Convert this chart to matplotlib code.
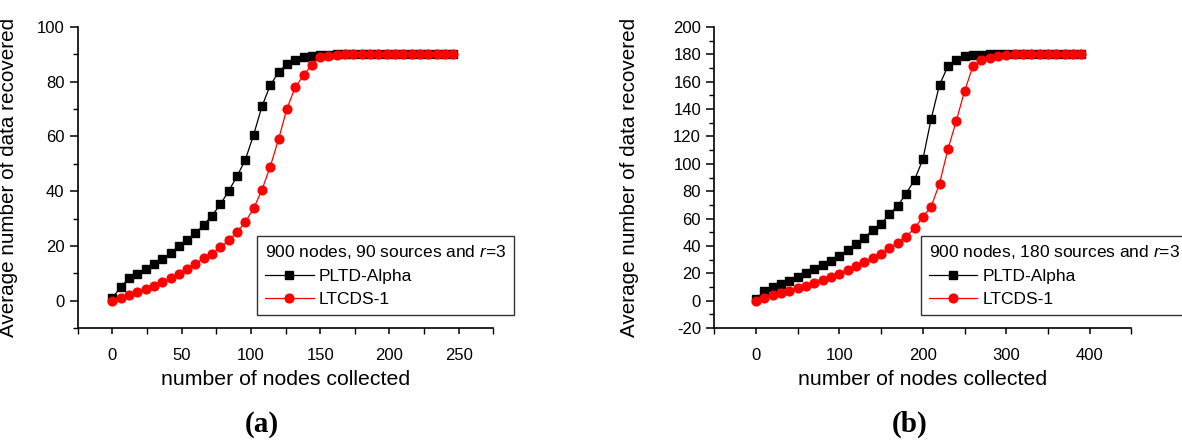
import numpy as np
import matplotlib
matplotlib.use('Agg')
import matplotlib.pyplot as plt
from matplotlib.ticker import MultipleLocator

plt.rcParams['font.family'] = ['Liberation Sans', 'DejaVu Sans']
plt.rcParams['mathtext.fontset'] = 'custom'
plt.rcParams['mathtext.rm'] = 'Liberation Sans'
plt.rcParams['mathtext.it'] = 'Liberation Sans:italic'
plt.rcParams['axes.unicode_minus'] = False

# (a) 900 nodes, 90 sources
x_a = [0, 6, 12, 18, 24, 30, 36, 42, 48, 54, 60, 66, 72, 78, 84, 90, 96, 102, 108, 114, 120,
       126, 132, 138, 144, 150, 156, 162, 168, 174, 180, 186, 192, 198, 204, 210, 216, 222,
       228, 234, 240, 246]
pltd_a = [1, 4.9, 8.2, 9.8, 11.5, 13.3, 15.2, 17.3, 19.8, 22.2, 24.6, 27.7, 31.1, 35.2, 40.1,
          45.4, 51.5, 60.6, 71.0, 78.7, 83.5, 86.6, 88.0, 89.0, 89.5, 89.8, 89.9, 90, 90, 90,
          90, 90, 90, 90, 90, 90, 90, 90, 90, 90, 90, 90]
ltcds_a = [0, 1.1, 2.1, 3.2, 4.3, 5.5, 6.8, 8.3, 9.8, 11.6, 13.5, 15.5, 17.2, 19.5, 22.0, 25.0,
           28.7, 33.7, 40.5, 49.0, 59.0, 70.1, 78.0, 82.3, 86.2, 88.9, 89.5, 89.8, 90, 90, 90,
           90, 90, 90, 90, 90, 90, 90, 90, 90, 90, 90]

# (b) 900 nodes, 180 sources
x_b = [0, 10, 20, 30, 40, 50, 60, 70, 80, 90, 100, 110, 120, 130, 140, 150, 160, 170, 180, 190,
       200, 210, 220, 230, 240, 250, 260, 270, 280, 290, 300, 310, 320, 330, 340, 350, 360,
       370, 380, 390]
pltd_b = [1, 7.3, 9.8, 12, 14.4, 17.3, 20, 23.2, 25.9, 29.3, 32.9, 37.1, 41.2, 46.1, 51.5, 56.3,
          63.2, 69.5, 78.3, 88.3, 103.2, 132.9, 157.8, 171.2, 175.9, 178.5, 179.3, 179.8, 180,
          180, 180, 180, 180, 180, 180, 180, 180, 180, 180, 180]
ltcds_b = [0, 2.2, 4.1, 5.6, 7.3, 9.0, 11.0, 12.9, 15.1, 17.3, 19.8, 22.7, 25.4, 28.0, 31.5,
           34.4, 38.3, 42.2, 46.8, 52.9, 61.2, 68.8, 85.6, 110.5, 131.2, 153.2, 171.2, 176.1,
           177.1, 178.8, 179.5, 180, 180, 180, 180, 180, 180, 180, 180, 180]

fig = plt.figure(figsize=(11.82, 4.41), dpi=100)
W, H = 1182, 441


def add_ax(l, r, t, b):
    return fig.add_axes([l / W, 1 - b / H, (r - l) / W, (b - t) / H])


ax1 = add_ax(77.7, 493.3, 27, 328)
ax2 = add_ax(714.3, 1131.4, 27, 328)

panels = [
    (ax1, x_a, pltd_a, ltcds_a, (-25, 275), (-10, 100), 50, 25, 20, 10, 0.432,
     '900 nodes, 90 sources and $r$=3'),
    (ax2, x_b, pltd_b, ltcds_b, (-50, 450), (-20, 200), 100, 50, 20, 10, 0.495,
     '900 nodes, 180 sources and $r$=3'),
]

for ax, x, yb, yr, xl, yl, xmaj, xmin, ymaj, ymin, legx, title in panels:
    ax.plot(x, yb, color='black', marker='s', markersize=5.5, linewidth=0.9, label='PLTD-Alpha')
    ax.plot(x, yr, color='red', marker='o', markersize=6.3, linewidth=0.9, label='LTCDS-1')
    ax.set_xlim(*xl)
    ax.set_ylim(*yl)
    ax.xaxis.set_major_locator(MultipleLocator(xmaj))
    ax.xaxis.set_minor_locator(MultipleLocator(xmin))
    ax.yaxis.set_major_locator(MultipleLocator(ymaj))
    ax.yaxis.set_minor_locator(MultipleLocator(ymin))
    ax.spines['top'].set_visible(False)
    ax.spines['right'].set_visible(False)
    ax.spines['left'].set_linewidth(1.2)
    ax.spines['bottom'].set_linewidth(1.2)
    ax.tick_params(which='major', direction='out', length=6, width=1.1, labelsize=12)
    ax.tick_params(which='minor', direction='out', length=3.5, width=1.0)
    ax.tick_params(axis='x', which='major', length=4.5, pad=10)
    ax.tick_params(axis='x', which='minor', length=4)
    ax.set_xlabel('number of nodes collected', fontsize=15.3, labelpad=5)
    ax.set_ylabel('Average number of data recovered', fontsize=14.9)
    leg = ax.legend(title=title, loc='upper left', bbox_to_anchor=(legx, 0.307),
                    borderaxespad=0, fancybox=False, framealpha=1, edgecolor='#333333',
                    fontsize=12.5, title_fontsize=12.5, handlelength=2.8, handletextpad=0.3,
                    borderpad=0.45, labelspacing=0.45, alignment='left')
    leg.get_frame().set_linewidth(1.0)

ax1.yaxis.set_label_coords((18 - 77.7) / (493.3 - 77.7), 0.5)
ax2.yaxis.set_label_coords((639 - 714.3) / (1131.4 - 714.3), 0.5)

fig.text(262 / W, 9 / H, '(a)', ha='center', va='baseline', fontsize=21,
         fontweight='bold', family='Liberation Serif')
fig.text(910 / W, 9 / H, '(b)', ha='center', va='baseline', fontsize=21,
         fontweight='bold', family='Liberation Serif')

fig.savefig('out.png', dpi=100)
